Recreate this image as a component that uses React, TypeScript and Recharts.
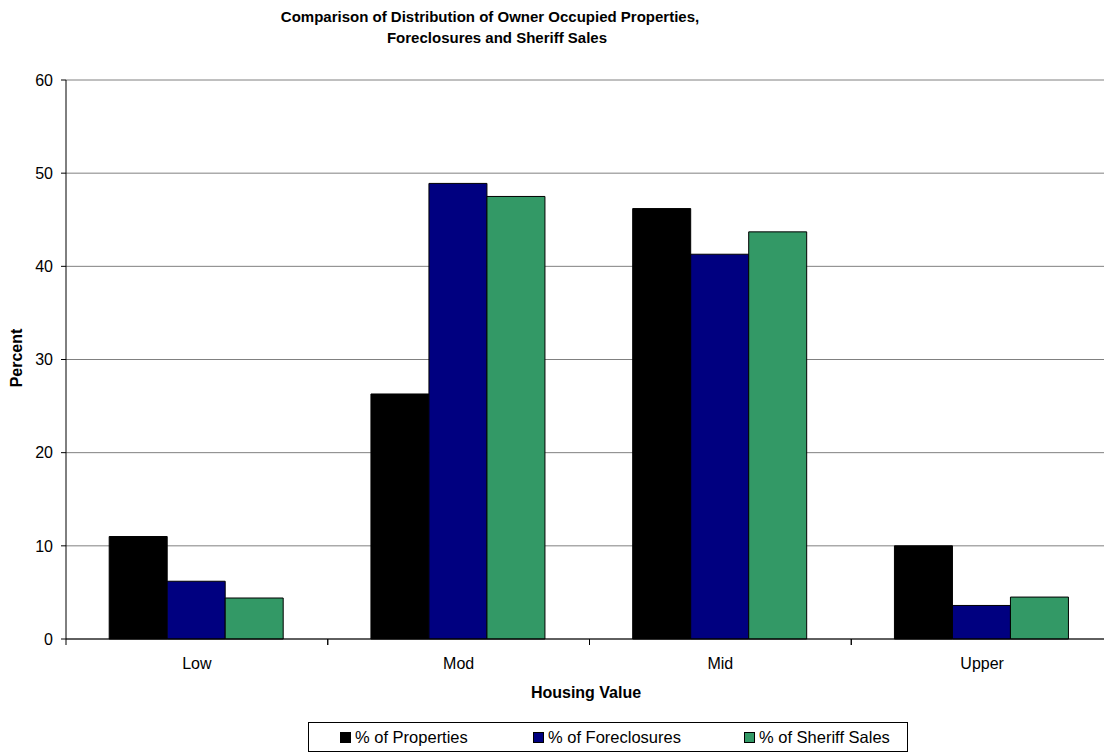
import { BarChart, Bar, XAxis, YAxis, CartesianGrid } from "recharts";

const categories = ["Low", "Mod", "Mid", "Upper"];
const properties = [11.0, 26.3, 46.2, 10.0];
const foreclosures = [6.2, 48.9, 41.3, 3.6];
const sheriffSales = [4.4, 47.5, 43.7, 4.5];
const yTicks = [0, 10, 20, 30, 40, 50, 60];

const series = [
  { key: "properties", name: "% of Properties", color: "#000000" },
  { key: "foreclosures", name: "% of Foreclosures", color: "#000080" },
  { key: "sheriff", name: "% of Sheriff Sales", color: "#339966" },
];

// legend item left offsets inside the legend box
const legendLeft = [31, 224, 435];

const data = categories.map((c, i) => ({
  category: c,
  properties: properties[i],
  foreclosures: foreclosures[i],
  sheriff: sheriffSales[i],
}));

const font = '"Liberation Sans", Arial, sans-serif';

// category label in the middle, tick marks on the band boundaries
const CategoryTick = (props: any) => {
  const { x, y, payload } = props;
  const half = payload && payload.offset ? payload.offset : 130.9;
  return (
    <g>
      <line x1={x - half} y1={y - 6} x2={x - half} y2={y} stroke="#000" />
      <line x1={x + half} y1={y - 6} x2={x + half} y2={y} stroke="#000" />
      <text x={x} y={y + 24} textAnchor="middle" fontSize={16} fill="#000" fontFamily={font}>
        {payload.value}
      </text>
    </g>
  );
};

const App = () => {
  return (
    <div
      style={{
        position: "absolute",
        left: 0,
        top: 0,
        width: 1104,
        height: 753,
        overflow: "hidden",
        background: "#fff",
        fontFamily: font,
      }}
    >
      <div style={{ position: "absolute", left: 190, width: 600, top: 5.6, textAlign: "center", fontSize: 15, lineHeight: "21.7px", fontWeight: "bold" }}>
        Comparison of Distribution of Owner Occupied Properties,
      </div>
      <div style={{ position: "absolute", left: 197, width: 600, top: 27.3, textAlign: "center", fontSize: 15, lineHeight: "21.7px", fontWeight: "bold" }}>
        Foreclosures and Sheriff Sales
      </div>

      <BarChart
        width={1130}
        height={753}
        data={data}
        margin={{ top: 80, right: 17, bottom: 84, left: 0 }}
        barGap={0}
        barCategoryGap="16.5%"
      >
        <CartesianGrid vertical={false} stroke="#808080" />
        <XAxis
          dataKey="category"
          height={30}
          axisLine={{ stroke: "#000" }}
          tickLine={false}
          tickSize={6}
          tickMargin={0}
          tick={<CategoryTick />}
          interval={0}
        />
        <YAxis
          width={66}
          domain={[0, 60]}
          ticks={yTicks}
          interval={0}
          axisLine={{ stroke: "#000" }}
          tickLine={{ stroke: "#000" }}
          tickSize={5}
          tickMargin={8}
          tick={{ fontSize: 16, fill: "#000", fontFamily: font }}
        />
        {series.map((s) => (
          <Bar
            key={s.key}
            dataKey={s.key}
            name={s.name}
            fill={s.color}
            stroke="#000"
            strokeWidth={1}
            isAnimationActive={false}
          />
        ))}
      </BarChart>

      <div
        style={{
          position: "absolute",
          left: 17,
          top: 358,
          transform: "translate(-50%, -50%) rotate(-90deg)",
          fontSize: 16,
          fontWeight: "bold",
          whiteSpace: "nowrap",
        }}
      >
        Percent
      </div>

      <div style={{ position: "absolute", left: 386, width: 400, top: 683, textAlign: "center", fontSize: 16, fontWeight: "bold", lineHeight: "20px" }}>
        Housing Value
      </div>

      <div
        style={{
          position: "absolute",
          left: 308,
          top: 722,
          width: 600,
          height: 30,
          boxSizing: "border-box",
          border: "1px solid #000",
          fontSize: 16.5,
        }}
      >
        {series.map((s, i) => (
          <div
            key={s.key}
            style={{
              position: "absolute",
              left: legendLeft[i],
              top: 0,
              height: 28,
              display: "flex",
              alignItems: "center",
              whiteSpace: "nowrap",
            }}
          >
            <span
              style={{
                display: "inline-block",
                width: 11,
                height: 11,
                background: s.color,
                border: "1px solid #000",
                boxSizing: "border-box",
                marginRight: 4,
              }}
            />
            {s.name}
          </div>
        ))}
      </div>
    </div>
  );
};

export default App;
